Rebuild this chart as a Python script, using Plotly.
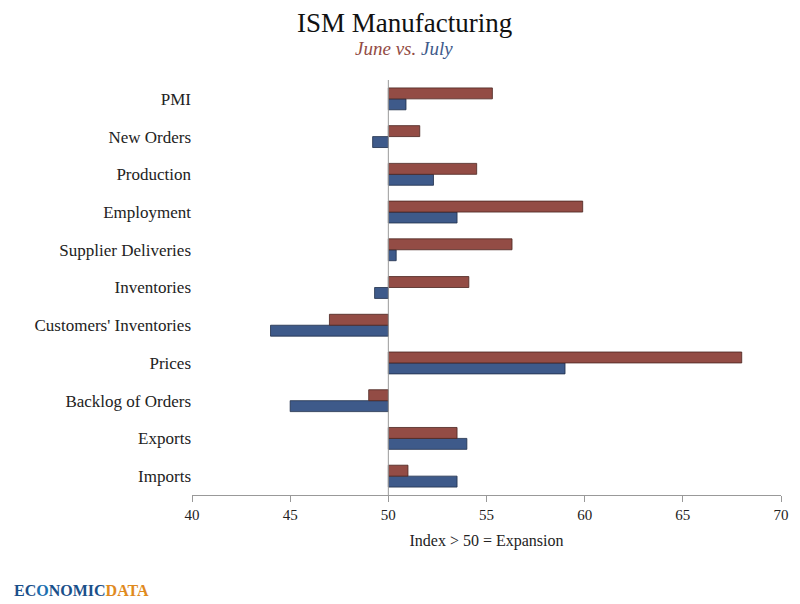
import plotly.graph_objects as go

categories = ["PMI", "New Orders", "Production", "Employment", "Supplier Deliveries",
              "Inventories", "Customers' Inventories", "Prices", "Backlog of Orders",
              "Exports", "Imports"]
june = [55.3, 51.6, 54.5, 59.9, 56.3, 54.1, 47.0, 68.0, 49.0, 53.5, 51.0]
july = [50.9, 49.2, 52.3, 53.5, 50.4, 49.3, 44.0, 59.0, 45.0, 54.0, 53.5]
base = 50
tick_vals = [40, 45, 50, 55, 60, 65, 70]

font = "Liberation Serif"
fig = go.Figure()
fig.add_trace(go.Bar(y=categories, x=[v - base for v in july], base=base, orientation="h",
                     name="July", marker=dict(color="#3E5A8A", line=dict(color="#1f2f4a", width=0.8))))
fig.add_trace(go.Bar(y=categories, x=[v - base for v in june], base=base, orientation="h",
                     name="June", marker=dict(color="#934C45", line=dict(color="#4a2420", width=0.8))))
fig.update_layout(
    width=800, height=596, barmode="group", bargap=0.42, bargroupgap=0,
    plot_bgcolor="white", paper_bgcolor="white", showlegend=False,
    margin=dict(l=184, r=27, t=72, b=109, autoexpand=False),
    font=dict(family=font, size=16, color="#222"),
    xaxis=dict(range=[40, 70], tickvals=tick_vals, showgrid=False, zeroline=False,
               showline=True, linecolor="#999", ticks="outside", ticklen=6, tickcolor="#999",
               title=dict(text="Index > 50 = Expansion", font=dict(size=16), standoff=12),
               tickfont=dict(size=15)),
    yaxis=dict(categoryorder="array", categoryarray=categories[::-1], showgrid=False,
               showline=False, ticks="", tickfont=dict(size=17)),
)
fig.add_shape(type="line", x0=50, x1=50, y0=0, y1=1, yref="paper", line=dict(color="#999", width=1))
fig.add_annotation(text="ISM Manufacturing", xref="paper", yref="paper", x=0.36, y=1.138,
                   xanchor="center", yanchor="middle", showarrow=False,
                   font=dict(size=27, family=font, color="#111"))
fig.add_annotation(text="<i><span style='color:#934C45'>June</span> <span style='color:#934C45'>vs.</span> <span style='color:#3E5A8A'>July</span></i>",
                   xref="paper", yref="paper", x=0.36, y=1.075,
                   xanchor="center", yanchor="middle", showarrow=False,
                   font=dict(size=19, family=font))
fig.add_annotation(text="<b>EC<span style='color:#1a6fb0'>O</span>NOMIC<span style='color:#e08a1e'>DATA</span></b>",
                   xref="paper", yref="paper", x=-0.305, y=-0.23, xanchor="left", yanchor="middle",
                   showarrow=False, font=dict(size=16, color="#1a4f8a", family="Liberation Serif"))
fig.write_html("out.html")
